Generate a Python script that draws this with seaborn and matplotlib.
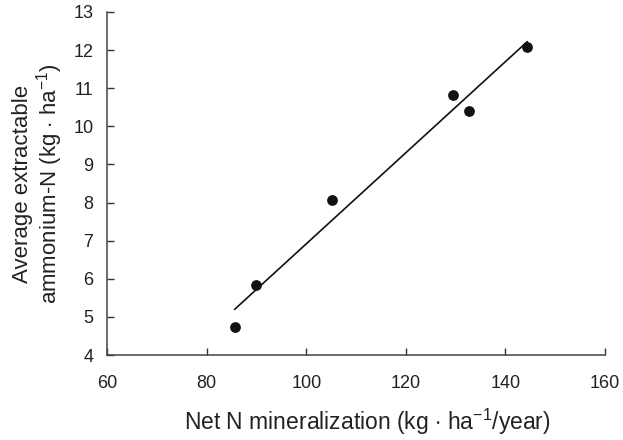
import matplotlib
matplotlib.use("Agg")
import matplotlib.pyplot as plt
import seaborn as sns
import pandas as pd

# Net N mineralization vs. average extractable ammonium-N
net_n_min = [85.6, 90.0, 105.2, 129.5, 132.6, 144.4]
ammonium_n = [4.74, 5.83, 8.06, 10.81, 10.40, 12.09]
x_ticks = [60, 80, 100, 120, 140, 160]
y_ticks = [4, 5, 6, 7, 8, 9, 10, 11, 12, 13]

df = pd.DataFrame({"net_n_min": net_n_min, "ammonium_n": ammonium_n})

sns.set_theme(style="ticks")
plt.rcParams["font.family"] = ["Liberation Sans", "DejaVu Sans"]
plt.rcParams["mathtext.fontset"] = "custom"
plt.rcParams["mathtext.rm"] = "Liberation Sans"

fig = plt.figure(figsize=(6.23, 4.40), dpi=100)
ax = fig.add_axes([0.172, 0.193, 0.799, 0.780])

sns.regplot(data=df, x="net_n_min", y="ammonium_n", ax=ax, ci=None,
            truncate=True,
            scatter_kws=dict(s=60, color="#111111", alpha=1, linewidths=0, zorder=3),
            line_kws=dict(color="#111111", linewidth=1.2))

ax.set_xlim(60, 160)
ax.set_ylim(4, 13)
ax.set_xticks(x_ticks)
ax.set_yticks(y_ticks)
ax.tick_params(direction="in", length=5, width=1, colors="#333333",
               labelcolor="#222222", labelsize=13)
ax.tick_params(axis="x", pad=14)
ax.tick_params(axis="y", pad=10)
for side in ("left", "bottom"):
    ax.spines[side].set_color("#444444")
    ax.spines[side].set_linewidth(1.1)
sns.despine(ax=ax)

ax.set_xlabel("Net N mineralization (kg $\\cdot$ ha$^{-1}$/year)",
              fontsize=16.5, color="#222222")
ax.xaxis.set_label_coords(0.522, -0.150)
ax.set_ylabel("Average extractable\nammonium-N (kg $\\cdot$ ha$^{-1}$)",
              fontsize=16, color="#222222", labelpad=6, linespacing=1.05)

fig.savefig("out.png", dpi=100)
